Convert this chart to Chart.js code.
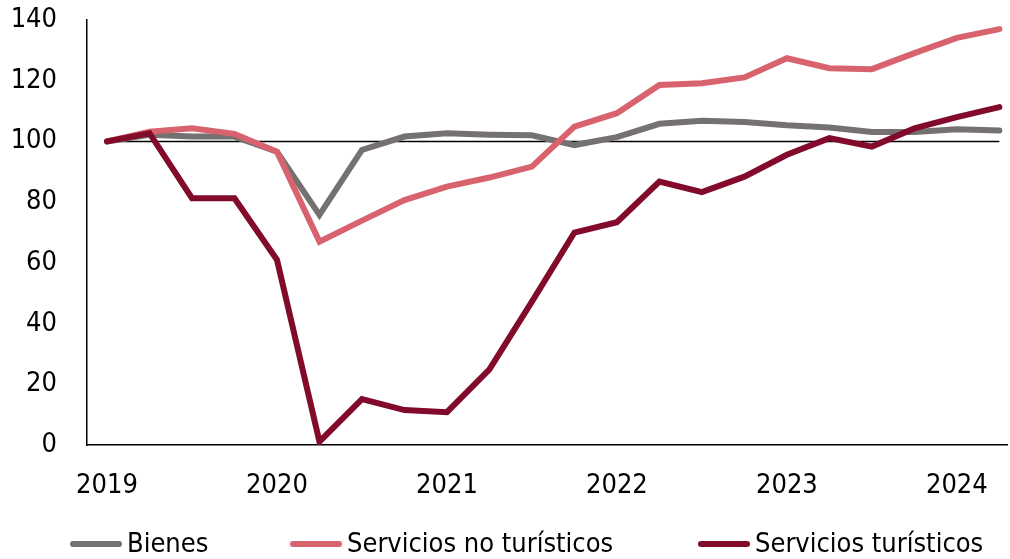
<!DOCTYPE html>
<html>
<head>
<meta charset="utf-8">
<script src="https://cdn.jsdelivr.net/npm/chart.js@4"></script>
<style>
  html, body { margin: 0; padding: 0; background: #fff; }
  #wrap { position: relative; width: 1010px; height: 559px; }
  #legend { position: absolute; left: 0; top: 527px; width: 1010px; height: 30px;
    font-family: 'DejaVu Sans Condensed', sans-serif; font-size: 27px; color: #000; }
  #legend .item { position: absolute; top: 0; display: flex; align-items: center; height: 30px; white-space: nowrap; }
  #legend .swatch { width: 52px; height: 6px; border-radius: 3px; margin-right: 5px; margin-top: 3px; }
</style>
</head>
<body>
<div id="wrap">
  <canvas id="myChart" width="1010" height="559"></canvas>
  <div id="legend"></div>
</div>
<script>
// quarterly index, 2019 Q1 = 100
const periods = ['2019T1', '2019T2', '2019T3', '2019T4', '2020T1', '2020T2', '2020T3', '2020T4',
  '2021T1', '2021T2', '2021T3', '2021T4', '2022T1', '2022T2', '2022T3', '2022T4',
  '2023T1', '2023T2', '2023T3', '2023T4', '2024T1', '2024T2'];

const bienes = [100, 102.2, 101.6, 101.6, 96.6, 75.8, 97.2, 101.6, 102.7, 102.2, 102.0, 98.8,
  101.4, 105.8, 106.8, 106.4, 105.3, 104.6, 103.1, 103.1, 104.0, 103.6];
const serviciosNoTuristicos = [100, 103.2, 104.3, 102.5, 96.6, 67.0, 73.9, 80.7, 85.1, 88.1, 91.7, 104.9,
  109.3, 118.6, 119.2, 121.1, 127.4, 124.1, 123.8, 129.1, 134.1, 137.0];
const serviciosTuristicos = [100, 102.7, 81.3, 81.3, 61.0, 1.1, 15.1, 11.5, 10.8, 24.9, 47.2, 70.0,
  73.4, 86.8, 83.3, 88.4, 95.6, 101.1, 98.3, 104.3, 108.0, 111.3];

const seriesNames = ['Bienes', 'Servicios no turísticos', 'Servicios turísticos'];
const seriesColors = ['#767171', '#d8636f', '#820a2a'];

const yearLabels = ['2019', '2020', '2021', '2022', '2023', '2024'];
const yearTickPositions = [0, 4, 8, 12, 16, 20];
const yTicks = [0, 20, 40, 60, 80, 100, 120, 140];
const baseLevel = 100;

const FONT = "'DejaVu Sans Condensed', sans-serif";
const legendLeft = [70, 290, 698];

const toPoints = arr => arr.map((v, i) => ({ x: i, y: v }));

function lineSet(idx, values, order) {
  return {
    label: seriesNames[idx],
    data: toPoints(values),
    borderColor: seriesColors[idx],
    backgroundColor: seriesColors[idx],
    borderWidth: 6,
    borderCapStyle: 'round',
    pointRadius: 0,
    tension: 0,
    order: order
  };
}

// drop the automatic label overflow padding so the plot box is exactly where we want it
function noPad(scale) {
  scale.paddingTop = 0;
  scale.paddingBottom = 0;
  scale.paddingLeft = 0;
  scale.paddingRight = 0;
}

const chart = new Chart(document.getElementById('myChart'), {
  type: 'line',
  data: {
    datasets: [
      lineSet(0, bienes, 2),
      lineSet(1, serviciosNoTuristicos, 1),
      lineSet(2, serviciosTuristicos, 0),
      {
        label: 'base',
        data: [{ x: 0, y: baseLevel }, { x: periods.length - 1, y: baseLevel }],
        borderColor: '#000',
        borderWidth: 1.5,
        pointRadius: 0,
        order: 10
      }
    ]
  },
  options: {
    responsive: false,
    animation: false,
    layout: { padding: { top: 20, right: 3, left: 0, bottom: 0 } },
    plugins: {
      tooltip: { enabled: false },
      legend: { display: false }
    },
    scales: {
      x: {
        type: 'linear',
        min: -20 / 42.5,
        max: 21.18,
        afterBuildTicks: scale => {
          scale.ticks = yearTickPositions.map(v => ({ value: v }));
        },
        afterFit: scale => { scale.height = 114; noPad(scale); },
        grid: { display: false, drawTicks: false },
        border: { display: true, color: '#000', width: 1.5 },
        ticks: {
          padding: 25,
          maxRotation: 0,
          autoSkip: false,
          color: '#000',
          font: { family: FONT, size: 27 },
          callback: (val) => {
            const k = yearTickPositions.indexOf(val);
            return k >= 0 ? yearLabels[k] : '';
          }
        }
      },
      y: {
        min: 0,
        max: 140,
        afterBuildTicks: scale => {
          scale.ticks = yTicks.map(v => ({ value: v }));
        },
        afterFit: scale => { scale.width = 87; noPad(scale); },
        grid: { display: false, drawTicks: false },
        border: { display: true, color: '#000', width: 1.5 },
        ticks: {
          padding: 30,
          color: '#000',
          font: { family: FONT, size: 27 }
        }
      }
    }
  }
});

const legendEl = document.getElementById('legend');
seriesNames.forEach((name, i) => {
  const item = document.createElement('div');
  item.className = 'item';
  item.style.left = legendLeft[i] + 'px';
  const sw = document.createElement('span');
  sw.className = 'swatch';
  sw.style.background = seriesColors[i];
  const txt = document.createElement('span');
  txt.textContent = name;
  item.appendChild(sw);
  item.appendChild(txt);
  legendEl.appendChild(item);
});
</script>
</body>
</html>
